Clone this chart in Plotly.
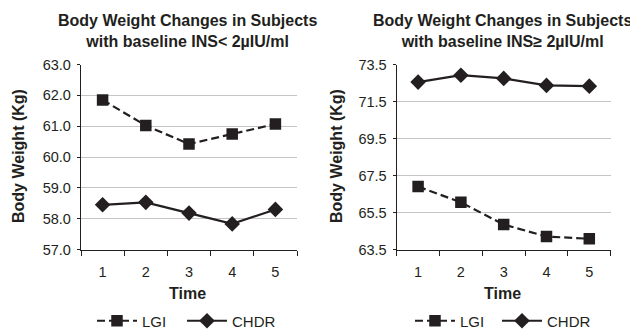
import plotly.graph_objects as go

time_labels = ["1", "2", "3", "4", "5"]

lgi_low = [61.85, 61.02, 60.42, 60.75, 61.07]
chdr_low = [58.45, 58.53, 58.18, 57.83, 58.30]

lgi_high = [66.9, 66.05, 64.85, 64.2, 64.08]
chdr_high = [72.55, 72.92, 72.75, 72.37, 72.33]

titles = [
    "Body Weight Changes in Subjects<br>with baseline INS< 2\u00b5IU/ml",
    "Body Weight Changes in Subjects<br>with baseline INS\u2265 2\u00b5IU/ml",
]
x_title = "Time"
y_title = "Body Weight (Kg)"

FONT = "Liberation Sans, Arial, sans-serif"
INK = "#231f20"
GRID = "#c4c4c4"

# the page body adds an 8px offset; size the figure so it fits the 638x329 window
OFF = 8
W, H = 638 - OFF, 329 - OFF

def PX(px):
    return (px - OFF) / W

def PY(py):
    return 1 - (py - OFF) / H

fig = go.Figure()

def add_pair(lgi, chdr, xa, ya, leg_a, leg_b):
    fig.add_trace(go.Scatter(
        x=time_labels, y=lgi, name="LGI", xaxis=xa, yaxis=ya, legend=leg_a,
        mode="lines+markers",
        line=dict(color=INK, width=2.2, dash="8px,4px"),
        marker=dict(symbol="square", size=11.5, color=INK),
    ))
    fig.add_trace(go.Scatter(
        x=time_labels, y=chdr, name="CHDR", xaxis=xa, yaxis=ya, legend=leg_b,
        mode="lines+markers",
        line=dict(color=INK, width=2.2),
        marker=dict(symbol="diamond", size=12, color=INK),
    ))

add_pair(lgi_low, chdr_low, "x", "y", "legend", "legend2")
add_pair(lgi_high, chdr_high, "x2", "y2", "legend3", "legend4")

ydom = [PY(249.5), PY(64.5)]

xcommon = dict(
    type="category", tickson="boundaries", ticks="outside", ticklen=5,
    tickcolor=INK, showline=True, linecolor=INK, linewidth=1.3,
    showgrid=False, tickfont=dict(size=14.5, color=INK), ticklabelstandoff=9,
    range=[-0.5, 4.5], fixedrange=True, automargin=False,
)
ycommon = dict(
    ticks="outside", ticklen=3, tickcolor=INK, showline=True, linecolor=INK,
    linewidth=1.3, showgrid=True, gridcolor=GRID, gridwidth=1,
    tickfont=dict(size=14.5, color=INK), tickformat=".1f", zeroline=False,
    ticklabelstandoff=3, automargin=False, fixedrange=True,
)

def ann(text, x, y, size=16, angle=0):
    return dict(text=text, x=PX(x), y=PY(y), xref="paper", yref="paper",
                showarrow=False, font=dict(size=size, color=INK, family=FONT),
                xanchor="center", yanchor="middle", textangle=angle)

leg_common = dict(orientation="h", yanchor="middle", y=PY(321), xanchor="left",
                  font=dict(size=15, color=INK, family=FONT), itemwidth=40,
                  bgcolor="rgba(0,0,0,0)", tracegroupgap=0)

fig.update_layout(
    template="none",
    width=W, height=H, margin=dict(l=0, r=0, t=0, b=0, autoexpand=False),
    paper_bgcolor="white", plot_bgcolor="white",
    font=dict(family=FONT, color=INK),
    xaxis=dict(domain=[PX(81), PX(297)], anchor="y", **xcommon),
    xaxis2=dict(domain=[PX(396.7), PX(610.7)], anchor="y2", **xcommon),
    yaxis=dict(domain=ydom, anchor="x", range=[57, 63], dtick=1, tick0=57, **ycommon),
    yaxis2=dict(domain=ydom, anchor="x2", range=[63.5, 73.5], dtick=2, tick0=63.5, **ycommon),
    legend=dict(x=PX(92), **leg_common),
    legend2=dict(x=PX(182), **leg_common),
    legend3=dict(x=PX(410), **leg_common),
    legend4=dict(x=PX(497), **leg_common),
    showlegend=True,
    annotations=[
        ann("<b>" + titles[0] + "</b>", 187, 31),
        ann("<b>" + titles[1] + "</b>", 502, 31),
        ann("<b>" + x_title + "</b>", 187, 293),
        ann("<b>" + x_title + "</b>", 502, 293),
        ann("<b>" + y_title + "</b>", 18, 156, angle=-90),
        ann("<b>" + y_title + "</b>", 336, 156, angle=-90),
    ],
)

fig.write_html("out.html")
